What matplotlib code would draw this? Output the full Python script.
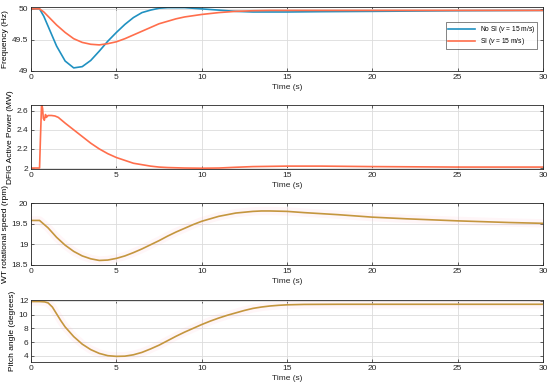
import numpy as np
from matplotlib import pyplot as plt

plt.rcParams['font.family'] = ['Liberation Sans', 'DejaVu Sans']
plt.rcParams['mathtext.fontset'] = 'custom'
plt.rcParams['mathtext.it'] = 'Liberation Sans:italic'

# frequency (Hz)
t_f = [0, 0.5, 0.75, 1.0, 1.5, 2.0, 2.5, 3.0, 3.5, 4.0, 4.5, 5.0, 5.5, 6.0, 6.5, 7.0, 7.5,
       8.0, 8.5, 9.0, 9.5, 10, 11, 12, 13, 14, 15, 17, 20, 25, 30]
f_nosi = [50, 50, 49.88, 49.72, 49.40, 49.16, 49.05, 49.07, 49.17, 49.32, 49.48, 49.62,
          49.75, 49.86, 49.94, 49.98, 50.01, 50.02, 50.02, 50.02, 50.01, 50.0, 49.98,
          49.96, 49.95, 49.95, 49.95, 49.955, 49.96, 49.97, 49.975]
f_si = [50, 50, 49.95, 49.88, 49.74, 49.62, 49.52, 49.46, 49.43, 49.42, 49.44, 49.47,
        49.52, 49.58, 49.64, 49.70, 49.76, 49.80, 49.84, 49.87, 49.89, 49.91, 49.94,
        49.96, 49.97, 49.975, 49.975, 49.975, 49.975, 49.975, 49.975]

# DFIG active power (MW)
t_p = [0, 0.5, 0.55, 0.62, 0.68, 0.72, 0.78, 0.85, 0.9, 1.0, 1.2, 1.4, 1.6, 2.0, 2.5,
       3.0, 3.5, 4.0, 4.5, 5.0, 5.5, 6.0, 6.5, 7.0, 7.5, 8, 9, 10, 11, 12, 13, 15, 17,
       20, 25, 30]
p_si = [2.0, 2.0, 2.3, 2.68, 2.62, 2.52, 2.50, 2.56, 2.53, 2.55, 2.55, 2.545, 2.53,
        2.47, 2.40, 2.33, 2.26, 2.20, 2.15, 2.11, 2.08, 2.05, 2.035, 2.02, 2.01, 2.005,
        2.0, 1.998, 2.0, 2.008, 2.015, 2.02, 2.02, 2.015, 2.01, 2.01]

# WT rotational speed (rpm)
t_w = [0, 0.5, 1.0, 1.5, 2.0, 2.5, 3.0, 3.5, 4.0, 4.5, 5.0, 5.5, 6.0, 6.5, 7.0, 7.5,
       8, 8.5, 9, 9.5, 10, 11, 12, 13, 13.5, 14, 15, 16, 18, 20, 22, 25, 28, 30]
w_si = [19.58, 19.58, 19.40, 19.17, 18.98, 18.83, 18.72, 18.65, 18.61, 18.62, 18.66,
        18.72, 18.80, 18.89, 18.99, 19.09, 19.20, 19.30, 19.39, 19.48, 19.56, 19.68,
        19.76, 19.80, 19.81, 19.81, 19.80, 19.77, 19.72, 19.66, 19.62, 19.57, 19.53, 19.51]

# pitch angle (degrees)
t_b = [0, 0.5, 0.8, 1.0, 1.25, 1.5, 1.75, 2.0, 2.5, 3.0, 3.5, 4.0, 4.5, 5.0, 5.5, 6.0,
       6.5, 7.0, 7.5, 8.0, 8.5, 9, 9.5, 10, 10.5, 11, 11.5, 12, 12.5, 13, 13.5, 14,
       14.5, 15, 16, 18, 20, 25, 30]
b_si = [11.9, 11.9, 11.85, 11.7, 11.1, 10.1, 9.1, 8.2, 6.8, 5.7, 4.9, 4.35, 4.02, 3.92,
        3.95, 4.15, 4.5, 5.0, 5.55, 6.2, 6.85, 7.45, 8.0, 8.55, 9.05, 9.5, 9.9, 10.25,
        10.6, 10.9, 11.1, 11.25, 11.35, 11.42, 11.48, 11.5, 11.5, 11.5, 11.5]

blue = '#2091c1'
orange = '#ff6e4c'
gold = '#c4963e'
fs = 6

fig = plt.figure(figsize=(5.5, 3.89), dpi=100)
left, width = 0.0564, 0.931
rects = [(0.8175, 0.1645), (0.5656, 0.1645), (0.3188, 0.159), (0.0694, 0.159)]
axs = [fig.add_axes([left, y0, width, h]) for y0, h in rects]

for ax in axs:
    ax.set_xlim(0, 30)
    ax.set_xticks(range(0, 31, 5))
    ax.grid(True, color='#dcdcdc', linewidth=0.6)
    ax.set_axisbelow(True)
    ax.tick_params(direction='in', labelsize=fs, length=2.5, width=0.5,
                   top=True, right=True, colors='#262626', pad=2)
    for s in ax.spines.values():
        s.set_color('#262626')
        s.set_linewidth(0.6)
    ax.set_xlabel('Time (s)', fontsize=fs, labelpad=2, color='#262626')

ax = axs[0]
ax.plot(t_f, f_nosi, color=blue, lw=1.2, label='No SI ($v$ = 15 m/s)')
ax.plot(t_f, f_si, color=orange, lw=1.2, label='SI ($v$ = 15 m/s)')
ax.set_ylim(49, 50.03)
ax.set_yticks([49, 49.5, 50])
ax.set_yticklabels(['49', '49.5', '50'])
ax.set_ylabel('Frequency (Hz)', fontsize=fs, labelpad=2)
leg = ax.legend(loc='upper right', bbox_to_anchor=(0.995, 0.82), fontsize=4.8,
                fancybox=False, edgecolor='#262626', handlelength=4,
                borderpad=0.3, labelspacing=0.2)
leg.get_frame().set_linewidth(0.5)

ax = axs[1]
ax.plot(t_p, p_si, color=orange, lw=1.2)
ax.set_ylim(1.99, 2.66)
ax.set_yticks([2, 2.2, 2.4, 2.6])
ax.set_yticklabels(['2', '2.2', '2.4', '2.6'])
ax.set_ylabel('DFIG Active Power (MW)', fontsize=fs, labelpad=2)

ax = axs[2]
ax.plot(t_w, w_si, color='#ffb6c8', lw=6, alpha=0.12)
ax.plot(t_w, w_si, color=gold, lw=1.2)
ax.set_ylim(18.5, 20)
ax.set_yticks([18.5, 19, 19.5, 20])
ax.set_yticklabels(['18.5', '19', '19.5', '20'])
ax.set_ylabel('WT rotational speed (rpm)', fontsize=fs, labelpad=2)

ax = axs[3]
ax.plot(t_b, b_si, color='#ffb6c8', lw=6, alpha=0.12)
ax.plot(t_b, b_si, color=gold, lw=1.2)
ax.set_ylim(3.1, 12.1)
ax.set_yticks([4, 6, 8, 10, 12])
ax.set_ylabel('Pitch angle (degrees)', fontsize=fs, labelpad=2)

fig.savefig('out.png', dpi=100)
